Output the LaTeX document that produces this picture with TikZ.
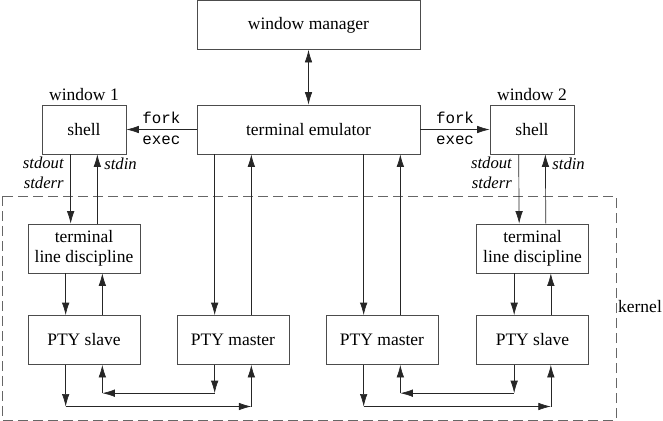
\documentclass[tikz,border=0pt]{standalone}
\usepackage{fontspec}
\setmainfont{Liberation Serif}
\setmonofont{Liberation Mono}
\usetikzlibrary{arrows.meta,calc}
\tikzset{
  box/.style={rectangle, draw=black!70, minimum width=67.2pt, minimum height=29.4pt, align=center, inner sep=1pt},
  wide/.style={box, minimum width=133.8pt},
  small/.style={box, minimum width=50.4pt},
  arrow/.style={draw=black!85, -{Latex[length=7.5pt,width=4.5pt]}},
  twoway/.style={draw=black!85, {Latex[length=7.5pt,width=4.5pt]}-{Latex[length=7.5pt,width=4.5pt]}},
  lbl/.style={font=\itshape, align=right, inner sep=1pt},
  cmd/.style={font=\ttfamily\fontsize{9.5}{11}\selectfont, inner sep=3.5pt},
  kernelbox/.style={draw=black!60, dash pattern=on 6pt off 3pt},
}

\begin{document}
\begin{tikzpicture}[x=0.6pt, y=-0.6pt, font=\fontsize{10.5}{12}\selectfont]
\useasboundingbox (0,0) rectangle (663,421);

\node (winmgr) [wide] at (308.5,25) {window manager};
\node (termemu) [wide] at (308.5,129.5) {terminal emulator};
\node (shell1) [small] at (84,129.5) {shell};
\node (shell2) [small] at (532,129.5) {shell};
\node (win1) at (84,95) {window 1};
\node (win2) at (532,95) {window 2};
\node (ldisc1) [box] at (84,248.5) {terminal\\line discipline};
\node (slave1) [box] at (84,340) {PTY slave};
\node (master1) [box] at (233,340) {PTY master};
\node (master2) [box] at (382,340) {PTY master};
\node (ldisc2) [box] at (532.5,248.5) {terminal\\line discipline};
\node (slave2) [box] at (532.5,340) {PTY slave};
\node (kernel) at (640,307) {kernel};
\draw [kernelbox] (2,196) rectangle (616,420);

\draw [twoway] (winmgr) -- (termemu);
\draw [arrow] (termemu.west) -- node[cmd, above] {fork} node[cmd, below] {exec} (shell1.east);
\draw [arrow] (termemu.east) -- node[cmd, above] {fork} node[cmd, below] {exec} (shell2.west);

% shells <-> line disciplines
\draw [arrow] ([xshift=-8pt]shell1.south) -- node[lbl, left=3pt, pos=0.27] {stdout\\stderr} ([xshift=-8pt]ldisc1.north);
\draw [arrow] ([xshift=8pt]ldisc1.north) -- node[lbl, right=3pt, pos=0.87] {stdin} ([xshift=8pt]shell1.south);
\draw [arrow] ([xshift=-8pt]shell2.south) -- node[lbl, left=3pt, pos=0.27] {stdout\\stderr} ([xshift=-8pt]ldisc2.north);
\draw [arrow] ([xshift=8pt]ldisc2.north) -- node[lbl, right=3pt, pos=0.87] {stdin} ([xshift=8pt]shell2.south);

% terminal emulator <-> masters
\draw [arrow] ([xshift=-11pt]termemu.south -| master1) -- ([xshift=-11pt]master1.north);
\draw [arrow] ([xshift=11pt]master1.north) -- ([xshift=11pt]termemu.south -| master1);
\draw [arrow] ([xshift=-11pt]termemu.south -| master2) -- ([xshift=-11pt]master2.north);
\draw [arrow] ([xshift=11pt]master2.north) -- ([xshift=11pt]termemu.south -| master2);

% line disciplines <-> slaves
\draw [arrow] ([xshift=-11pt]ldisc1.south) -- ([xshift=-11pt]slave1.north);
\draw [arrow] ([xshift=11pt]slave1.north) -- ([xshift=11pt]ldisc1.south);
\draw [arrow] ([xshift=-11pt]ldisc2.south) -- ([xshift=-11pt]slave2.north);
\draw [arrow] ([xshift=11pt]slave2.north) -- ([xshift=11pt]ldisc2.south);

% slave -> master
\coordinate (a1) at ($(slave1.south)+(-11pt,-25pt)$);
\coordinate (a2) at ($(master1.south)+(11pt,-25pt)$);
\draw [arrow] ($(slave1.south)+(-11pt,0)$) -- (a1);
\draw [arrow] (a1) -- (a2);
\draw [arrow] (a2) -- ($(master1.south)+(11pt,0)$);
% master -> slave
\coordinate (b1) at ($(master1.south)+(-11pt,-17pt)$);
\coordinate (b2) at ($(slave1.south)+(11pt,-17pt)$);
\draw [arrow] ($(master1.south)+(-11pt,0)$) -- (b1);
\draw [arrow] (b1) -- (b2);
\draw [arrow] (b2) -- ($(slave1.south)+(11pt,0)$);

% master -> slave (window 2)
\coordinate (c1) at ($(master2.south)+(-11pt,-25pt)$);
\coordinate (c2) at ($(slave2.south)+(11pt,-25pt)$);
\draw [arrow] ($(master2.south)+(-11pt,0)$) -- (c1);
\draw [arrow] (c1) -- (c2);
\draw [arrow] (c2) -- ($(slave2.south)+(11pt,0)$);
% slave -> master (window 2)
\coordinate (d1) at ($(slave2.south)+(-11pt,-17pt)$);
\coordinate (d2) at ($(master2.south)+(11pt,-17pt)$);
\draw [arrow] ($(slave2.south)+(-11pt,0)$) -- (d1);
\draw [arrow] (d1) -- (d2);
\draw [arrow] (d2) -- ($(master2.south)+(11pt,0)$);
\end{tikzpicture}
\end{document}
